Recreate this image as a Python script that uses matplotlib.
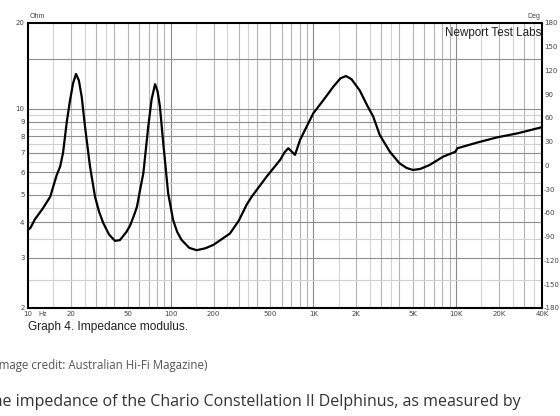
import numpy as np
import matplotlib.pyplot as plt

plt.rcParams['axes.unicode_minus'] = False

# impedance modulus (Hz, ohm)
freq = [10, 10.4, 11.2, 12.7, 14.3, 15.9, 16.8, 17.6, 18.7, 19.7, 20.7, 21.7, 22.7,
        23.8, 25.1, 27.2, 29.5, 31.5, 33.7, 37, 40.7, 44, 49, 52, 56, 58, 61, 64.3,
        69.6, 73.5, 77.7, 81, 84, 88.7, 96, 104, 111, 119, 135, 152, 175, 199, 260,
        300, 340, 369, 470, 584, 630, 667, 700, 743, 806, 896, 998, 1171, 1378, 1550,
        1693, 1850, 2112, 2400, 2623, 2915, 3433, 4010, 4500, 4989, 5600, 6519, 8100,
        9900, 10200, 13900, 19400, 26900, 40000]
ohm = [3.76, 3.82, 4.1, 4.47, 4.91, 5.86, 6.27, 7.0, 9.0, 10.7, 12.3, 13.25, 12.6,
       11.0, 8.65, 6.27, 4.91, 4.35, 3.97, 3.62, 3.44, 3.46, 3.7, 3.9, 4.3, 4.53, 5.19, 5.94,
       8.65, 10.8, 12.2, 11.5, 10.2, 7.57, 5.05, 4.07, 3.7, 3.47, 3.25, 3.19, 3.24, 3.33, 3.65,
       4.05, 4.6, 4.91, 5.78, 6.61, 7.05, 7.27, 7.1, 6.89, 7.77, 8.65, 9.64, 10.7, 11.95, 12.8,
       13.03, 12.7, 11.6, 10.2, 9.4, 8.1, 7.07, 6.44, 6.2, 6.1, 6.15, 6.35, 6.79,
       7.07, 7.27, 7.6, 7.94, 8.2, 8.62]

x_ticks = [10, 20, 50, 100, 200, 500, 1000, 2000, 5000, 10000, 20000, 40000]
x_labels = ['10', '20', '50', '100', '200', '500', '1K', '2K', '5K', '10K', '20K', '40K']
y_ticks = [2, 3, 4, 5, 6, 7, 8, 9, 10, 20]
deg_ticks = list(range(-180, 181, 30))

fig = plt.figure(figsize=(5.6, 4.16), dpi=100)
ax = fig.add_axes([28/560, 108/416, 514/560, 285/416])
ax.set_xscale('log')
ax.set_yscale('log')
ax.set_xlim(10, 40000)
ax.set_ylim(2, 20)

# grid: decades dark, whole steps mid grey, half steps light
for dec in [10, 100, 1000, 10000]:
    for m in [1, 1.5, 2, 2.5, 3, 3.5, 4, 5, 6, 7, 8, 9]:
        f = dec * m
        if f <= 10 or f >= 40000:
            continue
        if m == 1:
            c = '#8a8a8a'
        elif m in (1.5, 2.5, 3.5):
            c = '#d4d4d4'
        else:
            c = '#b4b4b4'
        ax.axvline(f, color=c, lw=0.8, zorder=1)
for v in [2.5, 3, 3.5, 4, 4.5, 5, 5.5, 6, 6.5, 7, 7.5, 8, 8.5, 9, 9.5, 10, 15]:
    c = '#d0d0d0' if v % 1 else '#8f8f8f'
    ax.axhline(v, color=c, lw=0.8, zorder=1)

ax.plot(freq, ohm, color='black', lw=1.6, zorder=3)

ax.set_xticks(x_ticks)
ax.set_xticklabels(x_labels)
ax.set_yticks(y_ticks)
ax.set_yticklabels([str(t) for t in y_ticks])
ax.minorticks_off()
ax.tick_params(length=0, labelsize=5, colors='#444444', pad=2.5)
ax.tick_params(axis='x', pad=2)
for s in ax.spines.values():
    s.set_linewidth(1.5)
    s.set_color('black')

ax2 = ax.twinx()
ax2.set_ylim(-180, 180)
ax2.set_yticks(deg_ticks)
ax2.tick_params(length=0, labelsize=5, colors='#444444', pad=1.5)
for s in ax2.spines.values():
    s.set_visible(False)

fnt = 'Liberation Sans'
fig.text(30/560, 1 - 17/416, 'Ohm', fontsize=5, color='#444444', family=fnt, va='center')
fig.text(540/560, 1 - 17/416, 'Deg', fontsize=5, color='#444444', family=fnt, va='center', ha='right')
fig.text(38/560, 1 - 314/416, 'Hz', fontsize=5, color='#444444', family=fnt, va='center')
ax.text(0.998, 0.985, 'Newport Test Labs', transform=ax.transAxes, ha='right', va='top',
        fontsize=8.4, color='#222222', family=fnt)

fig.text(28/560, 1 - 327/416, 'Graph 4. Impedance modulus.', fontsize=8.6,
         color='#222222', family=fnt, va='center')
fig.text(207/560, 1 - 366/416, '(Image credit: Australian Hi-Fi Magazine)', fontsize=8.3,
         color='#555555', family='Open Sans', va='center', ha='right')
fig.text(521/560, 1 - 402/416, 'The impedance of the Chario Constellation II Delphinus, as measured by',
         fontsize=11.5, color='#333333', family='Open Sans', va='center', ha='right')

plt.savefig('out.png', dpi=100)
